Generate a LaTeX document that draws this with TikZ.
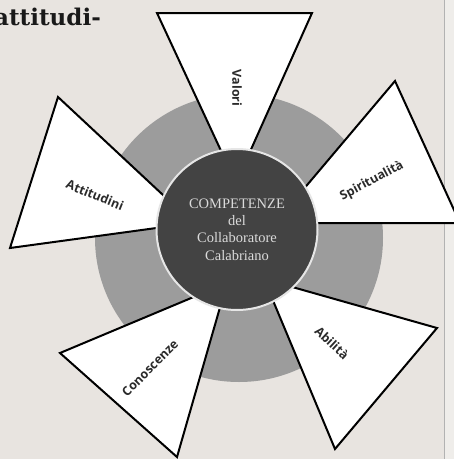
\documentclass[tikz,border=0pt]{standalone}
\usepackage{fontspec}
\setmainfont{Liberation Serif}
\newfontfamily\lblfont{Open Sans}
\newfontfamily\hdfont{DejaVu Serif}
\definecolor{bg}{HTML}{E8E4E0}
\definecolor{ringgray}{HTML}{9C9C9C}
\definecolor{core}{HTML}{434343}
\definecolor{coreedge}{HTML}{E6E6E6}
\definecolor{coretext}{HTML}{DADADA}
\definecolor{lblcol}{HTML}{2A2A2A}
\definecolor{strip}{HTML}{EFEDEA}
\begin{document}
\begin{tikzpicture}[x=1pt,y=1pt,
  petal/.style={fill=white,draw=black,line width=2pt,line join=miter},
  lbl/.style={font=\lblfont\bfseries\fontsize{12.5}{14}\selectfont,text=lblcol,inner sep=0pt}]
\useasboundingbox (0,0) rectangle (454,-459);
\fill[bg] (0,0) rectangle (454,-459);
\fill[strip] (444,0) rectangle (454,-459);
\draw[gray!60,line width=0.8pt] (444,0) -- (444,-459);
\fill[ringgray] (239,-238) circle (144);
% petals
\draw[petal] (157,-13) -- (312,-13) -- (236,-183) -- cycle;
\draw[petal] (58,-97) -- (10,-248) -- (193,-223) -- cycle;
\draw[petal] (395,-81) -- (460,-223) -- (275,-223) -- cycle;
\draw[petal] (60,-353) -- (177,-457) -- (227,-283) -- cycle;
\draw[petal] (437,-328) -- (335,-449) -- (264,-279) -- cycle;
% core
\node[circle,fill=core,draw=coreedge,line width=2pt,minimum size=161pt,inner sep=0pt,
  align=center,text=coretext,font=\fontsize{14.5}{17.3}\selectfont] (core) at (237,-229.5)
  {COMPETENZE\\del\\Collaboratore\\Calabriano};
% labels
\node[lbl,rotate=-90] (valori) at (237,-88) {Valori};
\node[lbl,rotate=-22] (attitudini) at (95,-195) {Attitudini};
\node[lbl,rotate=28] (spirit) at (372,-181) {Spiritualità};
\node[lbl,rotate=45] (conosc) at (150,-368) {Conoscenze};
\node[lbl,rotate=-43] (abil) at (332,-343) {Abilità};
% heading fragment
\node[anchor=base east,font=\hdfont\bfseries\fontsize{23}{25}\selectfont,text=black!90,inner sep=0pt] (head) at (101,-25) {attitudi-};
\end{tikzpicture}
\end{document}
